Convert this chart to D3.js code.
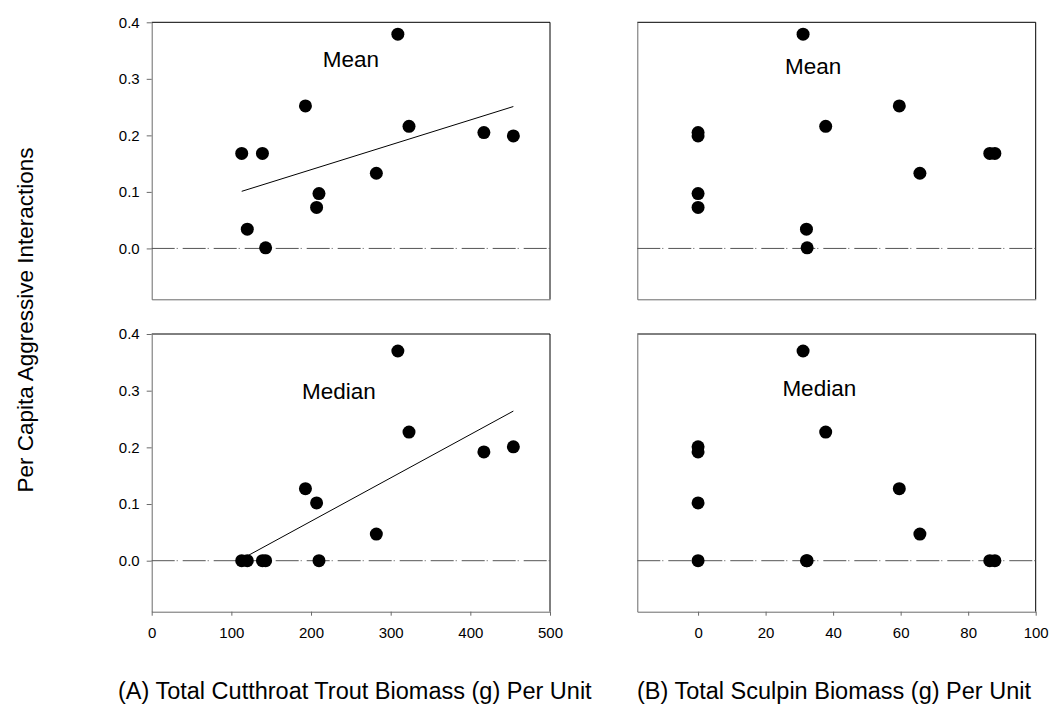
<!DOCTYPE html>
<html>
<head>
<meta charset="utf-8">
<script src="https://cdn.jsdelivr.net/npm/d3@7"></script>
<style>
  body { margin: 0; background: #fff; }
  svg { display: block; font-family: "Liberation Sans", Arial, sans-serif; }
</style>
</head>
<body>
<svg id="chart" width="1053" height="712"></svg>
<script>
'use strict'

// one entry per site, ordered by trout biomass
const troutBiomass = [113, 120, 139, 143, 193, 207, 210, 282, 309, 323, 417, 454]
const sculpinBiomass = [86.4, 32.1, 87.9, 32.3, 59.6, 0, 0, 65.7, 31.1, 37.8, 0, 0]
const meanRate = [0.168, 0.034, 0.168, 0.001, 0.252, 0.0725, 0.097, 0.133, 0.379, 0.216, 0.205, 0.199]
const medianRate = [0, 0, 0, 0, 0.127, 0.102, 0, 0.047, 0.370, 0.227, 0.192, 0.201]

// fitted lines in panel A (end points)
const trendMeanX = [113, 454]
const trendMeanY = [0.101, 0.251]
const trendMedianX = [113, 454]
const trendMedianY = [0.003, 0.264]

const troutTicks = [0, 100, 200, 300, 400, 500]
const sculpinTicks = [0, 20, 40, 60, 80, 100]
const rateTicks = [0.0, 0.1, 0.2, 0.3, 0.4]

const yTitle = 'Per Capita Aggressive Interactions'
const xTitleA = '(A) Total Cutthroat Trout Biomass (g) Per Unit'
const xTitleB = '(B) Total Sculpin Biomass (g) Per Unit'

;(function (d3) {
  const svg = d3.select('#chart')

  const leftCols = [151.7, 550]
  const rightCols = [637.3, 1035.7]
  const topRows = [299.3, 22.3]
  const bottomRows = [611.7, 334]

  const xTrout = d3.scaleLinear().domain([0, 500]).range(leftCols)
  const xSculpin = d3.scaleLinear().domain([-18, 100]).range(rightCols)
  const yTop = d3.scaleLinear().domain([-0.09, 0.4]).range(topRows)
  const yBottom = d3.scaleLinear().domain([-0.09, 0.4]).range(bottomRows)

  const panels = [
    { x: xTrout, y: yTop, xs: troutBiomass, ys: meanRate, label: 'Mean', lx: 250, ly: 0.321,
      yAxis: true, xAxis: false, xTicks: troutTicks, trend: [trendMeanX, trendMeanY] },
    { x: xTrout, y: yBottom, xs: troutBiomass, ys: medianRate, label: 'Median', lx: 235, ly: 0.285,
      yAxis: true, xAxis: true, xTicks: troutTicks, trend: [trendMedianX, trendMedianY] },
    { x: xSculpin, y: yTop, xs: sculpinBiomass, ys: meanRate, label: 'Mean', lx: 34.1, ly: 0.309,
      yAxis: false, xAxis: false, xTicks: sculpinTicks, trend: null },
    { x: xSculpin, y: yBottom, xs: sculpinBiomass, ys: medianRate, label: 'Median', lx: 35.9, ly: 0.29,
      yAxis: false, xAxis: true, xTicks: sculpinTicks, trend: null }
  ]

  panels.forEach(p => drawPanel(p))

  function drawPanel (p) {
    const g = svg.append('g')
    const [x0, x1] = p.x.range()
    const [y0, y1] = p.y.range()

    // frame: left / bottom grey, top / right black
    g.append('line').attr('x1', x0).attr('x2', x1).attr('y1', y1).attr('y2', y1)
      .attr('stroke', '#000')
    g.append('line').attr('x1', x1).attr('x2', x1).attr('y1', y1).attr('y2', y0)
      .attr('stroke', '#000')

    const yAxis = d3.axisLeft(p.y)
      .tickValues(p.yAxis ? rateTicks : [])
      .tickSize(5).tickSizeOuter(0).tickPadding(7)
      .tickFormat(d3.format('.1f'))
    const ya = g.append('g').attr('transform', `translate(${x0},0)`).call(yAxis)

    const xAxis = d3.axisBottom(p.x)
      .tickValues(p.xAxis ? p.xTicks : [])
      .tickSize(4).tickSizeOuter(0).tickPadding(12)
    const xa = g.append('g').attr('transform', `translate(0,${y0})`).call(xAxis)

    ;[ya, xa].forEach(a => {
      a.select('.domain').attr('stroke', '#6a6a6a')
      a.selectAll('.tick line').attr('stroke', '#6a6a6a')
      a.selectAll('.tick text').attr('fill', '#000')
        .style('font-size', '15px').style('font-family', '"Liberation Sans", Arial, sans-serif')
    })

    // zero reference
    g.append('line')
      .attr('x1', x0).attr('x2', x1)
      .attr('y1', p.y(0)).attr('y2', p.y(0))
      .attr('stroke', '#555').attr('stroke-width', 1)
      .attr('stroke-dasharray', '23,2,1,5')

    if (p.trend) {
      const pts = p.trend[0].map((v, i) => [v, p.trend[1][i]])
      g.append('path')
        .attr('d', d3.line().x(d => p.x(d[0])).y(d => p.y(d[1]))(pts))
        .attr('fill', 'none').attr('stroke', '#000').attr('stroke-width', 1)
    }

    g.selectAll('circle.dot')
      .data(p.xs.map((v, i) => [v, p.ys[i]]))
      .join('circle')
      .attr('class', 'dot')
      .attr('cx', d => p.x(d[0]))
      .attr('cy', d => p.y(d[1]))
      .attr('r', 6.5)
      .attr('fill', '#000')

    g.append('text')
      .attr('x', p.x(p.lx)).attr('y', p.y(p.ly))
      .attr('text-anchor', 'middle')
      .style('font-size', '22.5px')
      .text(p.label)
  }

  svg.append('text')
    .attr('transform', 'translate(33,320) rotate(-90)')
    .attr('text-anchor', 'middle')
    .style('font-size', '22.5px')
    .text(yTitle)

  svg.append('text')
    .attr('x', 118).attr('y', 699)
    .style('font-size', '23.5px')
    .text(xTitleA)

  svg.append('text')
    .attr('x', 637).attr('y', 699)
    .style('font-size', '23.5px')
    .text(xTitleB)
})(d3)
</script>
</body>
</html>
